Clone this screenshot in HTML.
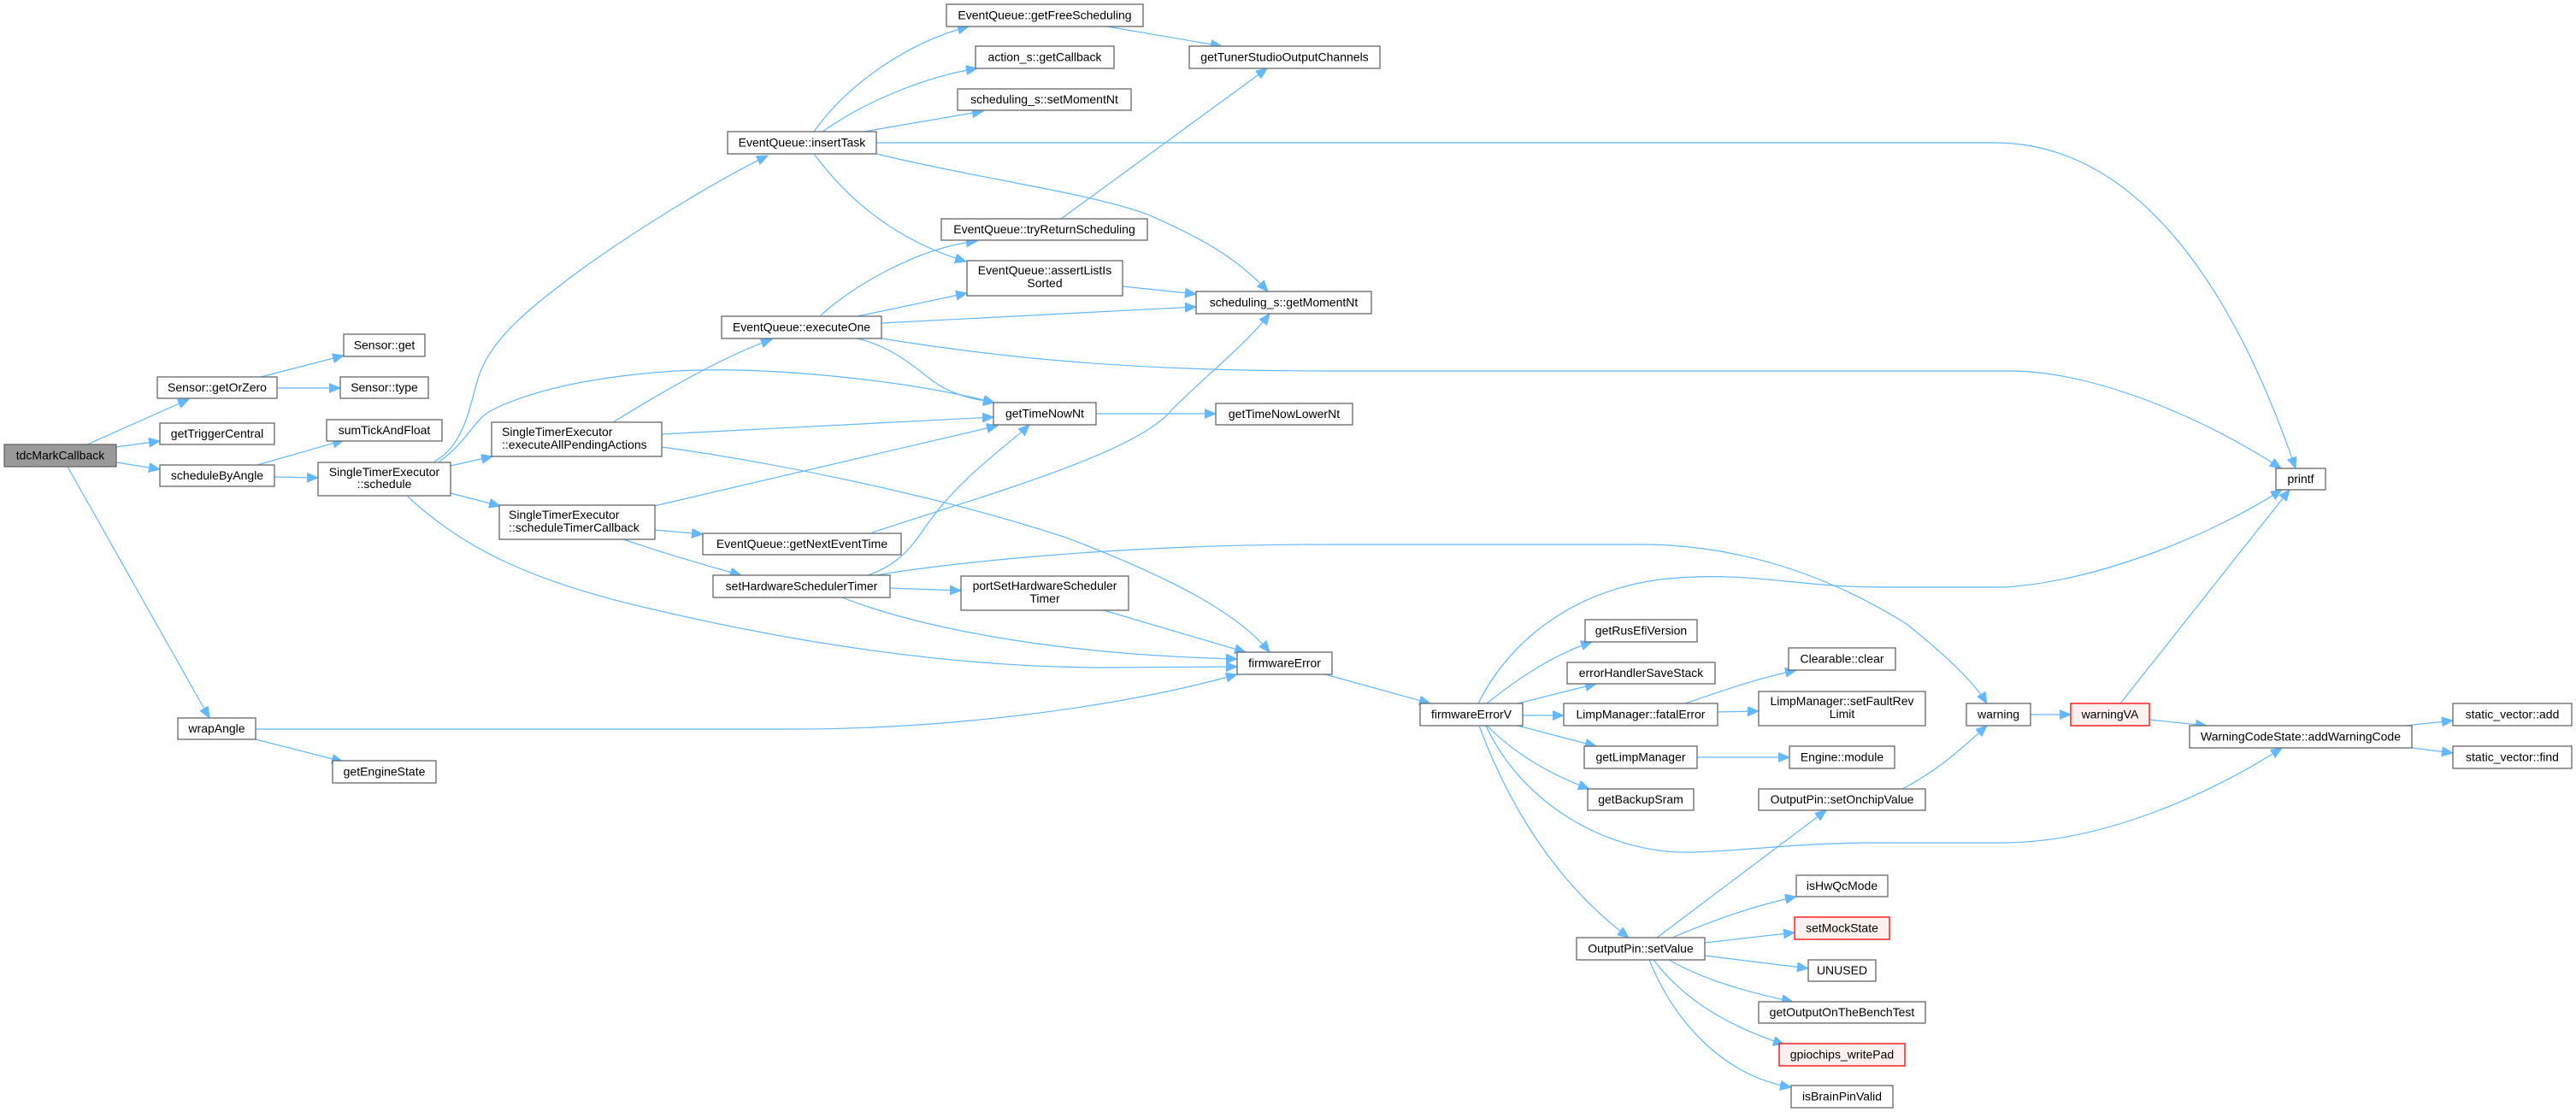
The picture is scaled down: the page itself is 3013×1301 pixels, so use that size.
<!DOCTYPE html>
<html>
<head>
<meta charset="utf-8">
<style>
  html, body { margin: 0; padding: 0; background: #ffffff; }
  svg { display: block; }
  .e { fill: none; stroke: #63b8ff; stroke-width: 1.2; marker-end: url(#a); }
  .n { fill: #ffffff; stroke: #666666; stroke-width: 1.3; }
  .g { fill: #999999; stroke: #666666; stroke-width: 1.3; }
  .r { fill: #fff0f0; stroke: #ff0000; stroke-width: 1.3; }
  text { font-family: "Liberation Sans", "DejaVu Sans", sans-serif; font-size: 14px; fill: #000000; }
  .c { text-anchor: middle; }
</style>
</head>
<body>
<svg width="3013" height="1301" viewBox="0 0 3013 1301" xmlns="http://www.w3.org/2000/svg">
<defs>
  <marker id="a" markerUnits="userSpaceOnUse" markerWidth="16" markerHeight="14" refX="13" refY="5.5" orient="auto">
    <path d="M0,0 L13,5.5 L0,11 z" fill="#63b8ff" stroke="#63b8ff" stroke-width="1"/>
  </marker>
</defs>
<rect x="0" y="0" width="3013" height="1301" fill="#ffffff"/>

<!-- edges -->
<path class="e" d="M102,520 L221,467"/>
<path class="e" d="M136,523 L187,516"/>
<path class="e" d="M136,541 L187,549"/>
<path class="e" d="M79,546 L245,840"/>
<path class="e" d="M305,441 L402,416"/>
<path class="e" d="M324,454 L398,454"/>
<path class="e" d="M301,544 L402,515"/>
<path class="e" d="M321,558 L372,559"/>
<path class="e" d="M299,865 L401,891"/>
<path class="e" d="M299,853 L930,853 C1100,853 1300,830 1447,789"/>
<path class="e" d="M508,540 C545,520 550,470 560,440 C575,395 620,360 680,315 C750,265 840,210 898,182"/>
<path class="e" d="M527,545 L576,534"/>
<path class="e" d="M527,577 L585,592"/>
<path class="e" d="M514,540 C548,515 555,490 575,480 C625,455 700,440 790,434 C900,428 1060,445 1163,471"/>
<path class="e" d="M477,581 C540,640 620,680 760,712 C900,745 1100,782 1300,781 L1447,780"/>
<path class="e" d="M717,494 C780,455 850,415 903,397"/>
<path class="e" d="M774,508 L1162,488"/>
<path class="e" d="M774,523 C900,540 1100,580 1250,630 C1380,680 1450,720 1485,763"/>
<path class="e" d="M765,592 L1167,498"/>
<path class="e" d="M766,620 L822,625"/>
<path class="e" d="M729,631 C770,645 820,660 867,673"/>
<path class="e" d="M952,154 C990,100 1060,50 1133,31"/>
<path class="e" d="M962,154 C1010,120 1080,90 1143,80"/>
<path class="e" d="M1010,154 L1150,130"/>
<path class="e" d="M1025,167 L2333,167 C2480,167 2600,300 2685,548"/>
<path class="e" d="M952,180 C1000,245 1060,285 1130,306"/>
<path class="e" d="M1025,180 C1150,210 1270,225 1340,250 C1410,280 1450,305 1483,341"/>
<path class="e" d="M959,370 C990,340 1070,290 1143,282"/>
<path class="e" d="M1003,370 L1131,343"/>
<path class="e" d="M1031,378 L1399,359"/>
<path class="e" d="M1003,396 C1040,405 1065,425 1090,445 C1110,460 1135,467 1163,471"/>
<path class="e" d="M1031,396 C1150,415 1300,434 1550,434 L2350,434 C2450,434 2580,490 2668,548"/>
<path class="e" d="M1020,623 C1150,580 1330,530 1370,480 C1410,440 1460,400 1485,367"/>
<path class="e" d="M1241,256 L1482,80"/>
<path class="e" d="M1295,31 L1429,54"/>
<path class="e" d="M1313,335 L1399,344"/>
<path class="e" d="M1282,484 L1422,484"/>
<path class="e" d="M1015,673 C1040,665 1060,650 1080,620 C1120,560 1180,520 1204,497"/>
<path class="e" d="M1041,688 L1124,691"/>
<path class="e" d="M985,699 C1050,725 1200,765 1447,771"/>
<path class="e" d="M1025,673 C1100,660 1300,637 1550,637 L1930,637 C2050,640 2150,680 2230,730 C2280,770 2310,800 2324,823"/>
<path class="e" d="M1291,714 L1457,763"/>
<path class="e" d="M1550,789 L1673,823"/>
<path class="e" d="M1729,823 C1760,760 1830,690 1950,677 C2050,668 2100,687 2200,687 L2345,687 C2450,680 2580,630 2669,573"/>
<path class="e" d="M1739,823 C1780,790 1820,765 1862,751"/>
<path class="e" d="M1775,823 L1867,800"/>
<path class="e" d="M1781,837 L1829,837"/>
<path class="e" d="M1775,849 L1867,873"/>
<path class="e" d="M1739,849 C1770,880 1810,905 1859,923"/>
<path class="e" d="M1730,849 Q1790,1010 1905,1097"/>
<path class="e" d="M1738,849 C1780,940 1880,1000 1980,997 C2050,995 2100,986 2200,986 L2345,986 C2470,985 2600,920 2669,875"/>
<path class="e" d="M1971,823 C2010,810 2050,795 2101,784"/>
<path class="e" d="M2009,833 L2057,832"/>
<path class="e" d="M1985,886 L2093,886"/>
<path class="e" d="M2225,923 C2270,900 2300,870 2324,849"/>
<path class="e" d="M2375,836 L2422,836"/>
<path class="e" d="M2480,823 L2678,573"/>
<path class="e" d="M2514,842 L2581,849"/>
<path class="e" d="M2814,849 L2869,843"/>
<path class="e" d="M2821,875 L2869,881"/>
<path class="e" d="M1938,1097 L2136,948"/>
<path class="e" d="M1956,1097 C2000,1078 2050,1060 2101,1049"/>
<path class="e" d="M1994,1103 L2099,1091"/>
<path class="e" d="M1994,1118 L2115,1133"/>
<path class="e" d="M1952,1123 C1990,1145 2040,1160 2097,1172"/>
<path class="e" d="M1934,1123 C1970,1170 2020,1200 2087,1222"/>
<path class="e" d="M1929,1123 C1960,1200 2020,1260 2095,1272"/>

<!-- nodes -->
<rect class="g" x="5" y="520" width="131" height="26"/><text class="c" x="70.5" y="537.5">tdcMarkCallback</text>
<rect class="n" x="184" y="441" width="140" height="25"/><text class="c" x="254" y="458">Sensor::getOrZero</text>
<rect class="n" x="187" y="495" width="134" height="25"/><text class="c" x="254" y="512">getTriggerCentral</text>
<rect class="n" x="187" y="544" width="134" height="25"/><text class="c" x="254" y="561">scheduleByAngle</text>
<rect class="n" x="208" y="840" width="91" height="25"/><text class="c" x="253.5" y="857">wrapAngle</text>
<rect class="n" x="402" y="391" width="95" height="26"/><text class="c" x="449.5" y="408.5">Sensor::get</text>
<rect class="n" x="398" y="441" width="103" height="25"/><text class="c" x="449.5" y="458">Sensor::type</text>
<rect class="n" x="382" y="491" width="135" height="25"/><text class="c" x="449.5" y="508">sumTickAndFloat</text>
<rect class="n" x="372" y="541" width="155" height="39"/><text class="c" x="449.5" y="557">SingleTimerExecutor</text><text class="c" x="449.5" y="571">::schedule</text>
<rect class="n" x="389" y="890" width="121" height="26"/><text class="c" x="449.5" y="907.5">getEngineState</text>
<rect class="n" x="575" y="494" width="199" height="40"/><text x="587" y="510">SingleTimerExecutor</text><text x="587" y="525">::executeAllPendingActions</text>
<rect class="n" x="584" y="591" width="182" height="40"/><text x="595" y="607">SingleTimerExecutor</text><text x="595" y="622">::scheduleTimerCallback</text>
<rect class="n" x="851" y="154" width="174" height="26"/><text class="c" x="938" y="171.5">EventQueue::insertTask</text>
<rect class="n" x="844" y="370" width="187" height="26"/><text class="c" x="937.5" y="387.5">EventQueue::executeOne</text>
<rect class="n" x="822" y="624" width="232" height="25"/><text class="c" x="938" y="641">EventQueue::getNextEventTime</text>
<rect class="n" x="834" y="673" width="207" height="26"/><text class="c" x="937.5" y="690.5">setHardwareSchedulerTimer</text>
<rect class="n" x="1107" y="5" width="230" height="26"/><text class="c" x="1222" y="22.5">EventQueue::getFreeScheduling</text>
<rect class="n" x="1141" y="54" width="162" height="26"/><text class="c" x="1222" y="71.5">action_s::getCallback</text>
<rect class="n" x="1120" y="104" width="203" height="25"/><text class="c" x="1221.5" y="121">scheduling_s::setMomentNt</text>
<rect class="n" x="1101" y="256" width="241" height="25"/><text class="c" x="1221.5" y="273">EventQueue::tryReturnScheduling</text>
<rect class="n" x="1131" y="305" width="182" height="41"/><text class="c" x="1222" y="321">EventQueue::assertListIs</text><text class="c" x="1222" y="336">Sorted</text>
<rect class="n" x="1162" y="471" width="120" height="26"/><text class="c" x="1222" y="488.5">getTimeNowNt</text>
<rect class="n" x="1124" y="674" width="196" height="40"/><text class="c" x="1222" y="690">portSetHardwareScheduler</text><text class="c" x="1222" y="705">Timer</text>
<rect class="n" x="1391" y="54" width="223" height="26"/><text class="c" x="1502.5" y="71.5">getTunerStudioOutputChannels</text>
<rect class="n" x="1399" y="341" width="205" height="26"/><text class="c" x="1501.5" y="358.5">scheduling_s::getMomentNt</text>
<rect class="n" x="1422" y="472" width="160" height="25"/><text class="c" x="1502" y="489">getTimeNowLowerNt</text>
<rect class="n" x="1447" y="763" width="111" height="26"/><text class="c" x="1502.5" y="780.5">firmwareError</text>
<rect class="n" x="1661" y="823" width="120" height="26"/><text class="c" x="1721" y="840.5">firmwareErrorV</text>
<rect class="n" x="1854" y="725" width="131" height="26"/><text class="c" x="1919.5" y="742.5">getRusEfiVersion</text>
<rect class="n" x="1833" y="775" width="173" height="25"/><text class="c" x="1919.5" y="792">errorHandlerSaveStack</text>
<rect class="n" x="1829" y="823" width="180" height="26"/><text class="c" x="1919" y="840.5">LimpManager::fatalError</text>
<rect class="n" x="1853" y="873" width="132" height="26"/><text class="c" x="1919" y="890.5">getLimpManager</text>
<rect class="n" x="1857" y="923" width="124" height="25"/><text class="c" x="1919" y="940">getBackupSram</text>
<rect class="n" x="1844" y="1097" width="150" height="26"/><text class="c" x="1919" y="1114.5">OutputPin::setValue</text>
<rect class="n" x="2092" y="758" width="125" height="26"/><text class="c" x="2154.5" y="775.5">Clearable::clear</text>
<rect class="n" x="2057" y="809" width="195" height="40"/><text class="c" x="2154.5" y="825">LimpManager::setFaultRev</text><text class="c" x="2154.5" y="840">Limit</text>
<rect class="n" x="2093" y="873" width="123" height="26"/><text class="c" x="2154.5" y="890.5">Engine::module</text>
<rect class="n" x="2057" y="923" width="195" height="25"/><text class="c" x="2154.5" y="940">OutputPin::setOnchipValue</text>
<rect class="n" x="2101" y="1024" width="107" height="25"/><text class="c" x="2154.5" y="1041">isHwQcMode</text>
<rect class="r" x="2099" y="1073" width="111" height="26"/><text class="c" x="2154.5" y="1090.5">setMockState</text>
<rect class="n" x="2115" y="1123" width="79" height="25"/><text class="c" x="2154.5" y="1140">UNUSED</text>
<rect class="n" x="2057" y="1172" width="195" height="25"/><text class="c" x="2154.5" y="1189">getOutputOnTheBenchTest</text>
<rect class="r" x="2081" y="1221" width="147" height="26"/><text class="c" x="2154.5" y="1238.5">gpiochips_writePad</text>
<rect class="n" x="2095" y="1270" width="119" height="26"/><text class="c" x="2154.5" y="1287.5">isBrainPinValid</text>
<rect class="n" x="2300" y="823" width="75" height="26"/><text class="c" x="2337.5" y="840.5">warning</text>
<rect class="r" x="2422" y="823" width="92" height="26"/><text class="c" x="2468" y="840.5">warningVA</text>
<rect class="n" x="2662" y="548" width="58" height="25"/><text class="c" x="2691" y="565">printf</text>
<rect class="n" x="2561" y="849" width="260" height="26"/><text class="c" x="2691" y="866.5">WarningCodeState::addWarningCode</text>
<rect class="n" x="2869" y="823" width="139" height="26"/><text class="c" x="2938.5" y="840.5">static_vector::add</text>
<rect class="n" x="2869" y="873" width="139" height="26"/><text class="c" x="2938.5" y="890.5">static_vector::find</text>
</svg>
</body>
</html>
